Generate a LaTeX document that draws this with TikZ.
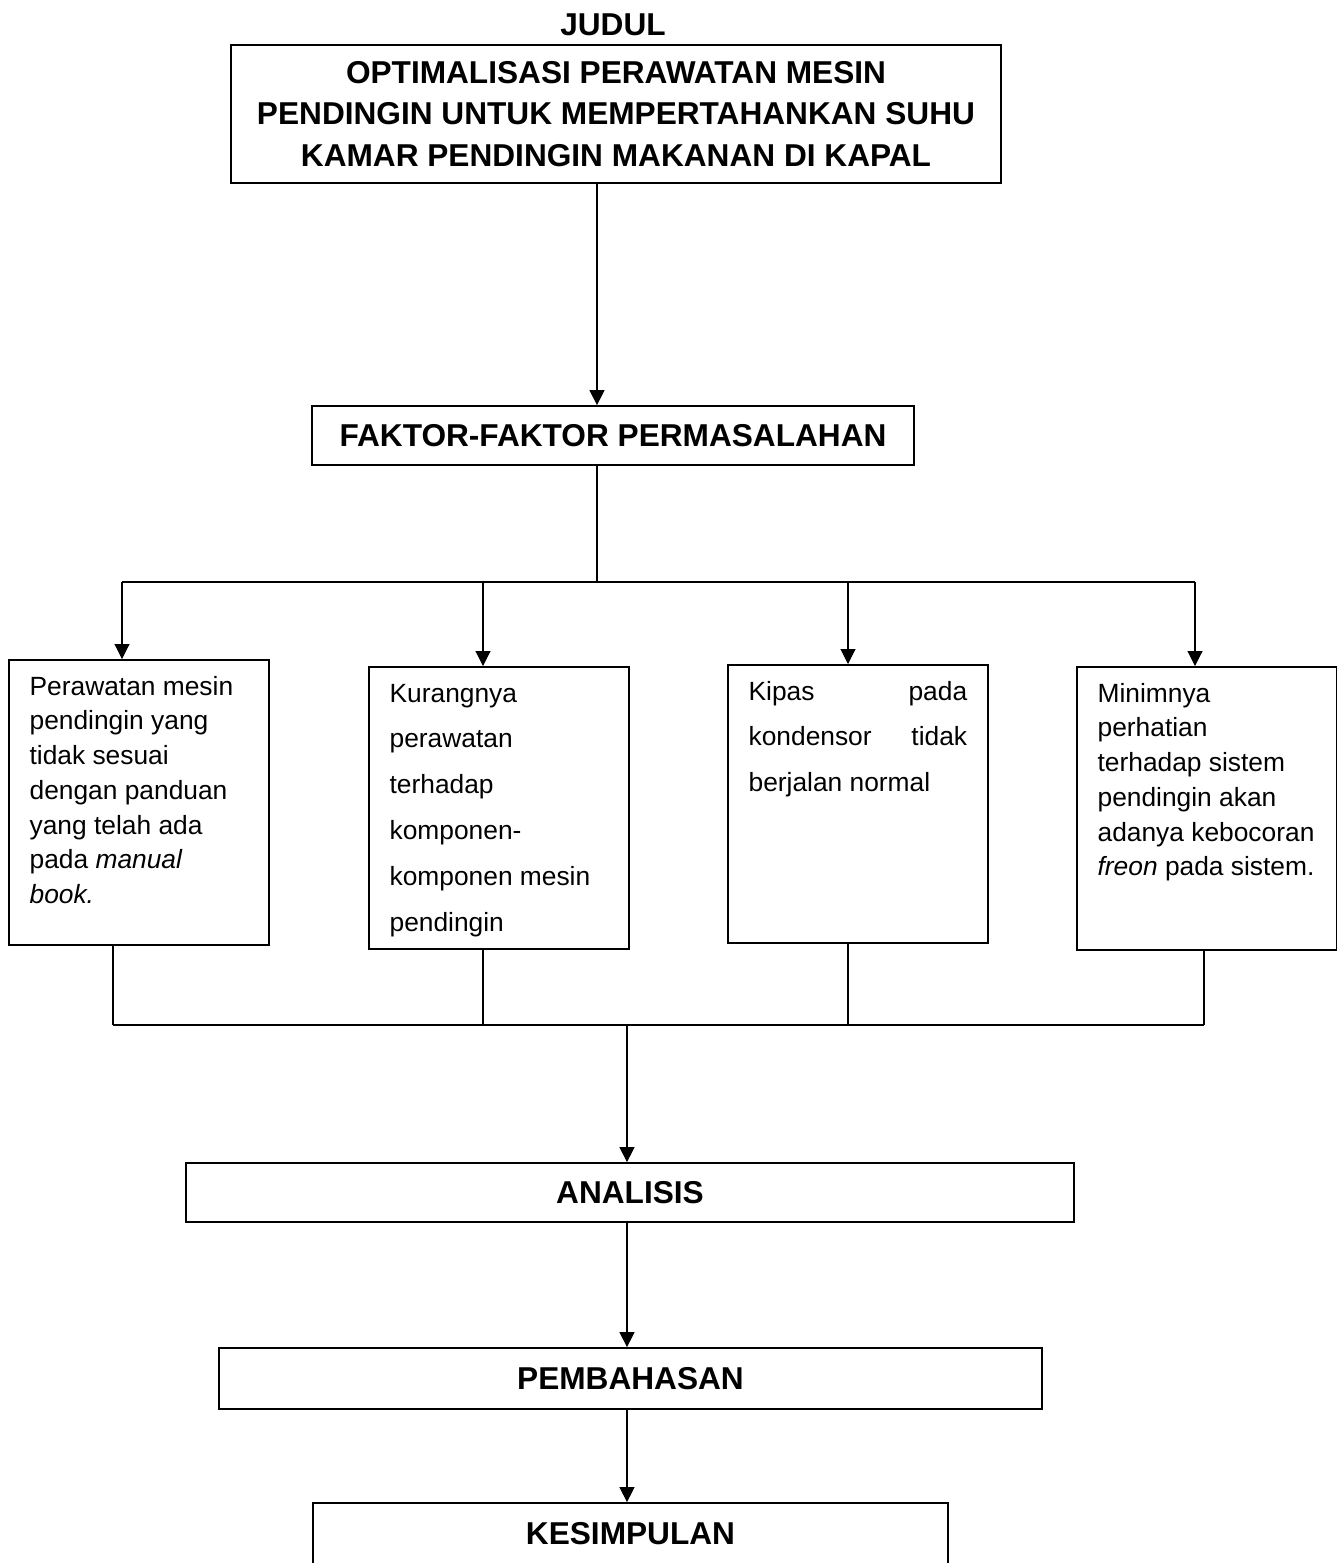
\documentclass[tikz,border=0pt]{standalone}
\usepackage{fontspec}
\setmainfont{Liberation Sans}
\usetikzlibrary{arrows.meta}

% unita' di misura: un pixel della figura
\newcommand{\px}{0.02cm}
% testo allineato in alto nei riquadri dei fattori
\newcommand{\causetext}[2]{\parbox[t][#1][t]{124.4pt}{\raggedright\rule{0pt}{11pt}#2}}

\begin{document}
\begin{tikzpicture}[x=0.02cm, y=-0.02cm,
    line width=0.6pt,
    arr/.style={-{Triangle[length=8.5pt,width=8.5pt]}},
    mainbox/.style={draw, line width=1pt, align=center,
        font=\bfseries\fontsize{18}{23.8}\selectfont},
    causebox/.style={draw, line width=1pt, anchor=north west,
        inner xsep=11.8pt, inner ysep=9pt, font=\fontsize{15}{19.8}\selectfont},
    widebox/.style={causebox, font=\fontsize{15}{26.1}\selectfont}]

    % Margini della figura
    \useasboundingbox (0,0) rectangle (1337,1563);

    % Titolo
    \node[font=\bfseries\fontsize{18}{22}\selectfont] (judul) at (613,25) {JUDUL};
    \node[mainbox, minimum width=770*\px, minimum height=138*\px] (title) at (616,114)
        {OPTIMALISASI PERAWATAN MESIN\\
         PENDINGIN UNTUK MEMPERTAHANKAN SUHU\\
         KAMAR PENDINGIN MAKANAN DI KAPAL};

    % Fattori
    \node[mainbox, minimum width=602*\px, minimum height=59*\px] (fak) at (613,435.5)
        {FAKTOR-FAKTOR PERMASALAHAN};

    % Riquadri dei singoli fattori
    \node[causebox] (b1) at (8,659) {\causetext{144.1pt}{Perawatan mesin\\
        pendingin yang\\ tidak sesuai\\ dengan panduan\\ yang telah ada\\
        pada \textit{manual}\\ \textit{book.}}};
    \node[widebox] (b2) at (368,666) {\causetext{142.4pt}{Kurangnya\\ perawatan\\
        terhadap\\ komponen-\\ komponen mesin\\ pendingin}};
    \node[widebox] (b3) at (727,664) {\causetext{140.2pt}{Kipas \hfill pada\\
        kondensor \hfill tidak\\ berjalan normal}};
    \node[causebox] (b4) at (1076,666) {\causetext{143pt}{Minimnya\\ perhatian\\
        terhadap sistem\\ pendingin akan\\ adanya kebocoran\\
        \textit{freon} pada sistem.}};

    % Fasi finali
    \node[mainbox, minimum width=888*\px, minimum height=59*\px] (ana) at (630,1192.5) {ANALISIS};
    \node[mainbox, minimum width=823*\px, minimum height=61*\px] (pem) at (630.5,1378.5) {PEMBAHASAN};
    \node[mainbox, minimum width=635*\px, minimum height=62*\px] (kes) at (630.5,1534) {KESIMPULAN};

    % Collegamenti verso i fattori
    \coordinate (split) at (597,582);
    \coordinate (top1) at (122,582);
    \coordinate (top2) at (483,582);
    \coordinate (top3) at (848,582);
    \coordinate (top4) at (1195,582);
    \draw[arr] (title.south -| split) -- (fak.north -| split);
    \draw (fak.south -| split) -- (split);
    \draw (top1) -- (top4);
    \foreach \i in {1,...,4}
        \draw[arr] (top\i) -- (top\i |- b\i.north);

    % Collegamenti verso l'analisi
    \coordinate (out1) at (113,1025);
    \coordinate (out2) at (483,1025);
    \coordinate (out3) at (848,1025);
    \coordinate (out4) at (1204,1025);
    \coordinate (merge) at (627,1025);
    \foreach \i in {1,...,4}
        \draw (b\i.south -| out\i) -- (out\i);
    \draw (out1) -- (out4);
    \draw[arr] (merge) -- (merge |- ana.north);
    \draw[arr] (ana.south -| merge) -- (pem.north -| merge);
    \draw[arr] (pem.south -| merge) -- (kes.north -| merge);

\end{tikzpicture}
\end{document}
